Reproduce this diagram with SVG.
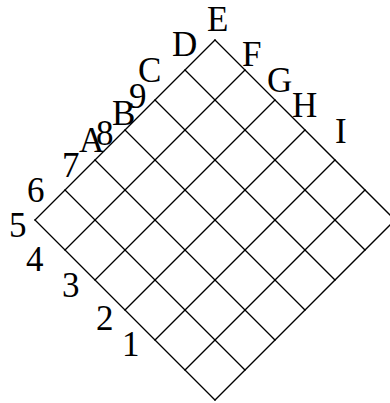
<svg xmlns="http://www.w3.org/2000/svg" width="390" height="403" viewBox="0 0 390 403">
<style>
.g line{stroke:#000;stroke-width:1.3;stroke-linecap:square}
text{font-family:"Liberation Serif","Times New Roman",serif;font-size:35px;fill:#000}
</style>
<rect width="390" height="403" fill="#fff"/>
<g id="grid" class="g">
<line x1="215" y1="40" x2="395" y2="220"/>
<line x1="185" y1="70" x2="365" y2="250"/>
<line x1="155" y1="100" x2="335" y2="280"/>
<line x1="125" y1="130" x2="305" y2="310"/>
<line x1="95" y1="160" x2="275" y2="340"/>
<line x1="65" y1="190" x2="245" y2="370"/>
<line x1="35" y1="220" x2="215" y2="400"/>
<line x1="215" y1="40" x2="35" y2="220"/>
<line x1="245" y1="70" x2="65" y2="250"/>
<line x1="275" y1="100" x2="95" y2="280"/>
<line x1="305" y1="130" x2="125" y2="310"/>
<line x1="335" y1="160" x2="155" y2="340"/>
<line x1="365" y1="190" x2="185" y2="370"/>
<line x1="395" y1="220" x2="215" y2="400"/>
</g>
<g id="labels">
<text x="207" y="31">E</text>
<text x="172" y="56">D</text>
<text x="138" y="82">C</text>
<text x="129" y="108">9</text>
<text x="112" y="125">B</text>
<text x="96" y="145">8</text>
<text x="79" y="152">A</text>
<text x="62" y="177">7</text>
<text x="27" y="202">6</text>
<text x="9" y="237">5</text>
<text x="26" y="271">4</text>
<text x="62" y="297">3</text>
<text x="96" y="330">2</text>
<text x="122" y="356">1</text>
<text x="242" y="66">F</text>
<text x="267" y="92">G</text>
<text x="292" y="117">H</text>
<text x="335" y="143">I</text>
</g>
</svg>
